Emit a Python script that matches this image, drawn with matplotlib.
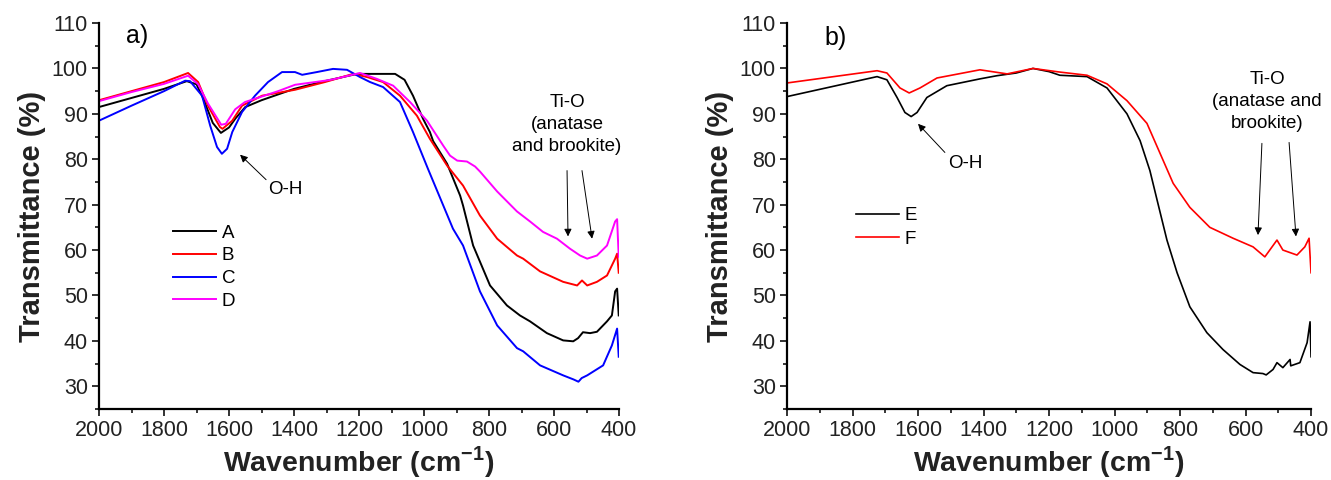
import matplotlib
matplotlib.use("Agg")
import matplotlib.pyplot as plt
from matplotlib.ticker import MultipleLocator

plt.rcParams['font.family'] = ['Liberation Sans', 'DejaVu Sans']
plt.rcParams['mathtext.fontset'] = 'custom'
plt.rcParams['mathtext.rm'] = 'Liberation Sans'
plt.rcParams['mathtext.bf'] = 'Liberation Sans:bold'

# panel a) spectra
wn_A = [2000, 1900, 1800, 1730, 1700, 1680, 1650, 1625, 1600, 1580, 1550, 1500, 1400, 1300, 1206,
        1145, 1089, 1060, 1034, 1003, 982, 972, 929, 889, 880, 849, 797, 745, 705, 674, 622, 572,
        541, 526, 511, 489, 468, 437, 422, 412, 406, 401]
t_A = [91.5, 93.5, 95.5, 97.2, 96.5, 93.5, 88.0, 85.8, 87.0, 89.0, 91.5, 93.0, 95.5, 97.3, 98.8,
       98.8, 98.8, 97.5, 94.0, 88.9, 86.0, 84.0, 79.0, 72.0, 69.8, 61.0, 52.2, 47.8, 45.6, 44.3, 41.7, 40.1,
       39.9, 40.6, 41.9, 41.7, 42.0, 44.3, 45.6, 50.9, 51.5, 45.6]

wn_B = [2000, 1900, 1800, 1726, 1695, 1665, 1628, 1620, 1590, 1560, 1498, 1397, 1305, 1218, 1175,
        1126, 1074, 1022, 982, 929, 880, 828, 775, 714, 695, 643, 572, 529, 514, 498, 468, 437,
        412, 406, 401]
t_B = [93.0, 95.0, 97.0, 99.0, 97.0, 91.8, 87.1, 86.7, 88.5, 91.8, 94.0, 95.3, 97.0, 98.8, 98.1,
       97.0, 94.0, 89.6, 84.5, 78.6, 74.2, 67.6, 62.5, 58.8, 58.1, 55.3, 53.0, 52.2, 53.3, 52.2, 53.0, 54.4,
       58.1, 59.2, 55.0]

wn_C = [2000, 1900, 1800, 1735, 1720, 1683, 1658, 1637, 1622, 1606, 1590, 1560, 1520, 1480, 1437,
        1397, 1375, 1330, 1280, 1237, 1197, 1166, 1126, 1074, 1034, 988, 911, 880, 828, 775, 714,
        695, 643, 572, 540, 525, 515, 498, 449, 422, 406, 401]
t_C = [88.5, 91.8, 95.0, 97.3, 97.2, 94.0, 87.4, 82.7, 81.2, 82.3, 86.0, 90.4, 94.0, 97.0, 99.2,
       99.2, 98.6, 99.2, 99.9, 99.7, 98.1, 97.0, 95.9, 92.6, 86.0, 77.9, 64.7, 61.0, 50.9, 43.4, 38.4,
       37.7, 34.6, 32.4, 31.5, 31.0, 31.8, 32.4, 34.6, 39.0, 42.7, 36.5]

wn_D = [2000, 1900, 1800, 1726, 1695, 1665, 1624, 1610, 1581, 1551, 1449, 1397, 1305, 1280, 1197,
        1145, 1095, 1043, 991, 941, 920, 898, 868, 843, 828, 775, 714, 674, 634, 591, 551, 520,
        498, 468, 437, 412, 406, 401]
t_D = [92.8, 94.8, 96.6, 98.4, 96.5, 92.3, 87.6, 87.8, 91.0, 92.6, 95.0, 96.4, 97.3, 97.6, 99.0,
       97.7, 96.2, 92.6, 88.5, 83.0, 80.8, 79.7, 79.5, 78.4, 77.3, 72.9, 68.5, 66.3, 64.0, 62.5, 60.3, 58.8,
       58.1, 58.8, 61.0, 66.3, 66.8, 58.5]

# panel b) spectra
wn_E = [2000, 1725, 1695, 1664, 1640, 1621, 1603, 1573, 1512, 1411, 1359, 1300, 1249, 1200, 1167,
        1084, 1023, 962, 922, 892, 870, 840, 809, 770, 718, 669, 617, 577, 547, 537, 516, 504,
        486, 464, 462, 434, 412, 403, 400]
t_E = [93.8, 98.2, 97.5, 93.6, 90.3, 89.4, 90.3, 93.6, 96.2, 97.7, 98.4, 99.0, 100.0, 99.3, 98.5,
       98.2, 95.7, 90.0, 84.1, 77.5, 71.0, 62.2, 55.0, 47.5, 41.8, 38.1, 34.8, 33.0, 32.8, 32.5, 33.7, 35.2,
       34.1, 35.9, 34.5, 35.2, 39.6, 44.2, 36.5]

wn_F = [2000, 1725, 1695, 1655, 1627, 1594, 1542, 1411, 1328, 1249, 1167, 1084, 1023, 962, 901,
        861, 821, 770, 709, 638, 577, 541, 504, 486, 443, 419, 406, 400]
t_F = [96.8, 99.5, 99.0, 95.7, 94.6, 95.7, 97.9, 99.7, 98.8, 100.0, 99.2, 98.5, 96.6, 92.9, 87.9,
       81.3, 74.7, 69.4, 65.0, 62.6, 60.7, 58.5, 62.2, 60.0, 58.9, 60.7, 62.6, 55.0]

fig = plt.figure(figsize=(13.31, 4.80), dpi=100)
ax1 = fig.add_axes([0.0744, 0.148, 0.3907, 0.804])
ax2 = fig.add_axes([0.5913, 0.148, 0.3937, 0.804])

for ax in (ax1, ax2):
    ax.set_xlim(2000, 400)
    ax.set_ylim(25, 110)
    ax.xaxis.set_major_locator(MultipleLocator(200))
    ax.xaxis.set_minor_locator(MultipleLocator(100))
    ax.yaxis.set_major_locator(MultipleLocator(10))
    ax.yaxis.set_minor_locator(MultipleLocator(5))
    ax.spines['top'].set_visible(False)
    ax.spines['right'].set_visible(False)
    ax.spines['left'].set_linewidth(1.6)
    ax.spines['bottom'].set_linewidth(1.6)
    ax.tick_params(which='major', direction='out', length=5, width=1.3, labelsize=15.5, pad=3,
                   colors='#222222')
    ax.tick_params(which='minor', direction='out', length=3, width=1.1)
    ax.set_xlabel('Wavenumber (cm$^{\\mathbf{-1}}$)', fontsize=20.5, fontweight='bold',
                  color='#222222', labelpad=2)
    ax.set_ylabel('Transmittance (%)', fontsize=21, fontweight='bold', color='#222222', labelpad=4)

ax1.plot(wn_A, t_A, color='black', lw=1.4, label='A')
ax1.plot(wn_B, t_B, color='#ff0000', lw=1.4, label='B')
ax1.plot(wn_C, t_C, color='#0000ff', lw=1.4, label='C')
ax1.plot(wn_D, t_D, color='#ff00ff', lw=1.4, label='D')
ax1.legend(loc='upper left', bbox_to_anchor=(0.142, 0.478), frameon=False, fontsize=13.5,
           handlelength=2.3, handletextpad=0.3, labelspacing=0.3, borderpad=0, borderaxespad=0)

ax2.plot(wn_E, t_E, color='black', lw=1.2, label='E')
ax2.plot(wn_F, t_F, color='#ff0000', lw=1.2, label='F')
ax2.legend(loc='upper left', bbox_to_anchor=(0.132, 0.523), frameon=False, fontsize=13.5,
           handlelength=2.3, handletextpad=0.3, labelspacing=0.35, borderpad=0, borderaxespad=0)

ax1.text(1883, 107.1, 'a)', fontsize=18, ha='center', va='center')
ax2.text(1853, 106.7, 'b)', fontsize=18, ha='center', va='center')

arrow = dict(arrowstyle='-|>', color='black', lw=0.7, mutation_scale=11, shrinkA=0, shrinkB=0)

ax1.text(1428, 73.4, 'O-H', fontsize=13.5, ha='center', va='center')
ax1.annotate('', xy=(1566, 81), xytext=(1486, 75.5), arrowprops=arrow)
ax1.text(560, 87.6, 'Ti-O\n(anatase\nand brookite)', fontsize=13.5, ha='center', va='center',
         linespacing=1.38)
ax1.annotate('', xy=(557, 63), xytext=(560, 77.5), arrowprops=arrow)
ax1.annotate('', xy=(483, 62.5), xytext=(514, 77.5), arrowprops=arrow)

ax2.text(1457, 79.1, 'O-H', fontsize=13.5, ha='center', va='center')
ax2.annotate('', xy=(1600, 87.8), xytext=(1518, 81.5), arrowprops=arrow)
ax2.text(534, 92.7, 'Ti-O\n(anatase and\nbrookite)', fontsize=13.5, ha='center', va='center',
         linespacing=1.38)
ax2.annotate('', xy=(562, 63.3), xytext=(550, 83.5), arrowprops=arrow)
ax2.annotate('', xy=(446, 63), xytext=(467, 83.7), arrowprops=arrow)

fig.savefig('out.png', dpi=100)
